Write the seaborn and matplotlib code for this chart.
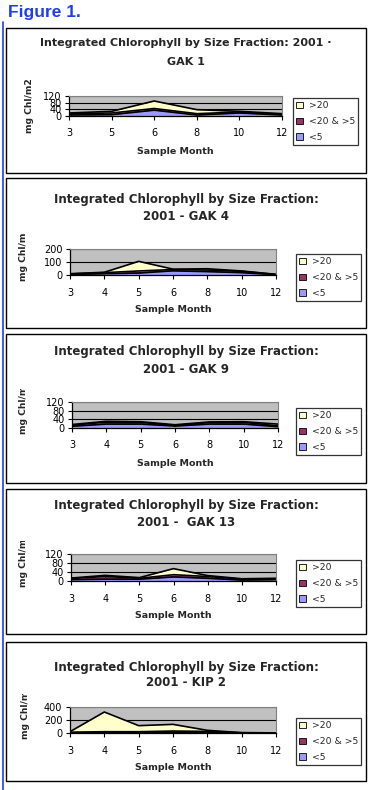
import numpy as np
import pandas as pd
import matplotlib
matplotlib.use("Agg")
import matplotlib.pyplot as plt
import seaborn as sns
from matplotlib.patches import Rectangle, Patch
from matplotlib.lines import Line2D
from matplotlib.transforms import Bbox, TransformedBbox

# ---------------- data ----------------
series_names = [">20", "<20 & >5", "<5"]
series_colors = ["#FFFFCC", "#993366", "#9999FF"]

titles_line1 = ["Integrated Chlorophyll by Size Fraction: 2001 \u00b7",
                "Integrated Chlorophyll by Size Fraction:",
                "Integrated Chlorophyll by Size Fraction:",
                "Integrated Chlorophyll by Size Fraction:",
                "Integrated Chlorophyll by Size Fraction:"]
titles_line2 = ["GAK 1", "2001 - GAK 4", "2001 - GAK 9", "2001 -  GAK 13", "2001 - KIP 2"]

months_gak1 = ["3", "5", "6", "8", "10", "12"]
months_other = ["3", "4", "5", "6", "8", "10", "12"]

gak1_lt5 = [6, 8, 35, 6, 18, 6]
gak1_mid = [8, 10, 10, 8, 6, 4]
gak1_gt20 = [4, 10, 45, 24, 4, 4]

gak4_lt5 = [4, 10, 15, 32, 26, 18, 2]
gak4_mid = [4, 8, 16, 10, 12, 10, 2]
gak4_gt20 = [2, 3, 74, 3, 10, 3, 1]

gak9_lt5 = [8, 18, 18, 9, 18, 18, 6]
gak9_mid = [5, 9, 8, 3, 7, 8, 4]
gak9_gt20 = [3, 4, 3, 3, 3, 3, 8]

gak13_lt5 = [6, 8, 8, 18, 12, 4, 6]
gak13_mid = [5, 12, 4, 10, 8, 4, 4]
gak13_gt20 = [2, 5, 3, 27, 4, 2, 2]

kip2_lt5 = [4, 8, 8, 10, 8, 2, 1]
kip2_mid = [8, 12, 12, 20, 17, 2, 1]
kip2_gt20 = [8, 303, 93, 103, 16, 1, 0]

yticks_list = [[0, 40, 80, 120], [0, 100, 200], [0, 40, 80, 120],
               [0, 40, 80, 120], [0, 200, 400]]

panels_data = [
    (months_gak1, gak1_lt5, gak1_mid, gak1_gt20),
    (months_other, gak4_lt5, gak4_mid, gak4_gt20),
    (months_other, gak9_lt5, gak9_mid, gak9_gt20),
    (months_other, gak13_lt5, gak13_mid, gak13_gt20),
    (months_other, kip2_lt5, kip2_mid, kip2_gt20),
]

# ---------------- layout (pixels from top-left) ----------------
W, H = 368, 790
# box top, box bottom, title y1, title y2, axes x0, x1, ytop, ybot,
# ylabel x, ylabel center, clip top, legend x0, legend ytop, title size
layout = [
    (28, 173, 43, 62, 69, 282, 96, 116, 30, 106, None, 293, 98, 8.0),
    (178, 328, 199, 217, 70, 276, 249, 275, 24, 254, 233, 296, 254, 8.5),
    (334, 483, 352, 369, 72, 278, 402, 428, 24, 407, 389, 296, 408, 8.5),
    (489, 634, 506, 523, 71, 276, 554, 581, 24, 560, 541, 296, 560, 8.5),
    (642, 781, 667, 683, 70, 276, 707, 733, 25, 712, 694, 296, 718, 8.5),
]

sns.set_theme(style="white")
plt.rcParams['font.family'] = ['DejaVu Sans']

fig = plt.figure(figsize=(W / 100, H / 100), dpi=100)
fig.patch.set_facecolor("white")


def fx(x):
    return x / W


def fy(y):
    return 1 - y / H


blue = "#1F3DF5"
fig.text(fx(8), fy(13), "Figure 1.", color=blue, fontsize=12.5,
         fontweight="bold", ha="left", va="center",
         family=["Liberation Sans", "DejaVu Sans"])
fig.add_artist(Line2D([fx(2.5), fx(2.5)], [fy(22), fy(790)], color=blue,
                      lw=1.2, transform=fig.transFigure))

for i, (lay, dat) in enumerate(zip(layout, panels_data)):
    (bt, bb, t1, t2, ax0, ax1, ayt, ayb, ylx, ylc, clip_top,
     lgx, lgy, tsize) = lay
    months, lt5, mid, gt20 = dat

    # panel frame
    fig.add_artist(Rectangle((fx(6), fy(bb)), fx(366) - fx(6), fy(bt) - fy(bb),
                             transform=fig.transFigure, fill=False,
                             edgecolor="black", lw=1.0))
    fig.text(fx(186), fy(t1), titles_line1[i], ha="center", va="center",
             fontsize=tsize, fontweight="bold")
    fig.text(fx(186), fy(t2), titles_line2[i], ha="center", va="center",
             fontsize=tsize, fontweight="bold")

    ax = fig.add_axes([fx(ax0), fy(ayb), fx(ax1) - fx(ax0), fy(ayt) - fy(ayb)])
    ax.set_facecolor("#C0C0C0")
    n = len(months)
    xi = np.arange(n)
    ax.stackplot(xi, lt5, mid, gt20,
                 colors=[series_colors[2], series_colors[1], series_colors[0]],
                 linewidth=0)
    c1 = np.array(lt5)
    c2 = c1 + np.array(mid)
    c3 = c2 + np.array(gt20)
    df = pd.DataFrame({
        "xi": np.concatenate([xi, xi, xi]),
        "val": np.concatenate([c1, c2, c3]),
        "layer": ["a"] * n + ["b"] * n + ["c"] * n,
    })
    sns.lineplot(data=df, x="xi", y="val", hue="layer",
                 palette={"a": "black", "b": "black", "c": "black"},
                 legend=False, ax=ax, linewidth=1.2)

    yt = yticks_list[i]
    ax.set_xlim(0, n - 1)
    ax.set_ylim(yt[0], yt[-1])
    ax.set_xticks(xi)
    ax.set_xticklabels(months)
    ax.set_yticks(yt)
    ax.set_yticklabels([str(v) for v in yt])
    ax.set_xlabel("")
    ax.set_ylabel("")
    ax.set_axisbelow(True)
    ax.yaxis.grid(True, color="black", lw=0.8)
    ax.xaxis.grid(False)
    ax.tick_params(axis="both", direction="out", length=3, width=0.8,
                   color="black", labelsize=7, labelcolor="black",
                   bottom=True, left=True)
    ax.tick_params(axis="x", pad=6)
    ax.tick_params(axis="y", pad=2.5)
    for s in ["left", "bottom"]:
        ax.spines[s].set_color("black")
        ax.spines[s].set_linewidth(0.9)
    for s in ["top", "right"]:
        ax.spines[s].set_color("#808080")
        ax.spines[s].set_linewidth(0.8)

    # x label
    fig.text(fx((ax0 + ax1) / 2), fy(ayb + 35), "Sample Month", ha="center",
             va="center", fontsize=6.8, fontweight="bold")
    # y label
    yl = fig.text(fx(ylx), fy(ylc), "mg Chl/m2", rotation=90, ha="center",
                  va="center", fontsize=6.6, fontweight="bold")
    if clip_top is not None:
        yl.set_clip_box(TransformedBbox(Bbox.from_extents(0, 0, 1, fy(clip_top)),
                                        fig.transFigure))
        yl.set_clip_on(True)

    handles = [Patch(facecolor=c, edgecolor="black", lw=0.6) for c in series_colors]
    leg = fig.legend(handles, series_names, loc="upper left",
                     bbox_to_anchor=(fx(lgx), fy(lgy)),
                     bbox_transform=fig.transFigure, fontsize=6.7,
                     frameon=True, fancybox=False, borderpad=0.37,
                     labelspacing=0.72, handlelength=0.7, handleheight=0.7,
                     handletextpad=0.6, borderaxespad=0)
    leg.get_frame().set_edgecolor("black")
    leg.get_frame().set_linewidth(0.9)
    leg.get_frame().set_facecolor("white")

fig.savefig("out.png", dpi=100, facecolor="white")
